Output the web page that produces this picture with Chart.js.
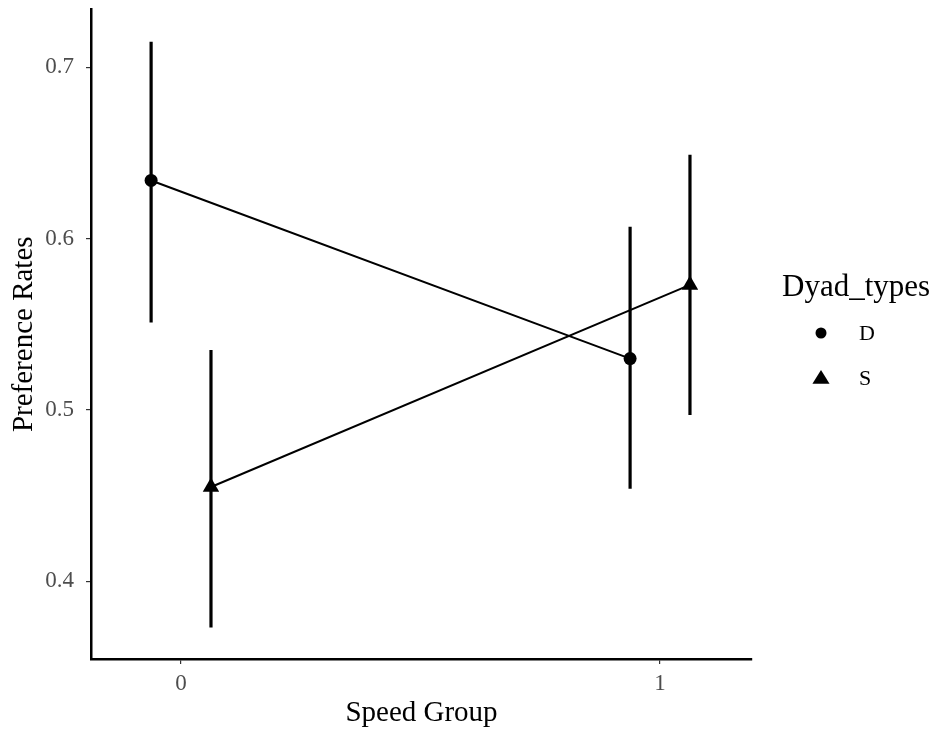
<!DOCTYPE html>
<html>
<head>
<meta charset="utf-8">
<script src="https://cdn.jsdelivr.net/npm/chart.js@4.4.1/dist/chart.umd.min.js"></script>
<style>
  html, body { margin: 0; padding: 0; background: #ffffff; }
  #wrap { width: 939px; height: 729px; }
</style>
</head>
<body>
<div id="wrap"><canvas id="c" width="939" height="729"></canvas></div>
<script>
// ---- data ----
const categories = ["0", "1"];            // Speed Group
const dyadTypes = ["D", "S"];             // legend groups
const meanD = [0.634, 0.530];
const lowerD = [0.551, 0.454];
const upperD = [0.715, 0.607];
const meanS = [0.455, 0.573];
const lowerS = [0.373, 0.497];
const upperS = [0.535, 0.649];
const yTicks = [0.4, 0.5, 0.6, 0.7];

// ---- presentation ----
const dodge = 0.0625;
const serif = "'Liberation Serif', 'Times New Roman', serif";
const groups = [
  { label: dyadTypes[0], mean: meanD, lo: lowerD, hi: upperD, off: -dodge, style: 'circle', r: 6.5 },
  { label: dyadTypes[1], mean: meanS, lo: lowerS, hi: upperS, off: dodge, style: 'triangle', r: 9.5 }
];

const datasets = groups.map(g => ({
  label: g.label,
  data: categories.map((c, i) => ({ x: i + g.off, y: g.mean[i] })),
  borderColor: '#000',
  backgroundColor: '#000',
  borderWidth: 2,
  pointStyle: g.style,
  pointRadius: g.r,
  pointBorderWidth: 0,
  pointHoverRadius: g.r,
  showLine: true,
  tension: 0
}));

const errorBars = {
  id: 'errorBars',
  afterDatasetsDraw(chart) {
    const ctx = chart.ctx, xs = chart.scales.x, ys = chart.scales.y;
    ctx.save();
    ctx.strokeStyle = '#000';
    ctx.lineWidth = 3.2;
    groups.forEach(g => {
      categories.forEach((c, i) => {
        const px = xs.getPixelForValue(i + g.off);
        ctx.beginPath();
        ctx.moveTo(px, ys.getPixelForValue(g.lo[i]));
        ctx.lineTo(px, ys.getPixelForValue(g.hi[i]));
        ctx.stroke();
      });
    });
    ctx.restore();
  }
};

const customLegend = {
  id: 'customLegend',
  afterDraw(chart) {
    const ctx = chart.ctx;
    ctx.save();
    ctx.fillStyle = '#000';
    ctx.textBaseline = 'middle';
    ctx.textAlign = 'left';
    ctx.font = '31px ' + serif;
    ctx.fillText('Dyad_types', 782, 288);
    ctx.font = '22px ' + serif;
    const rows = [333, 378];
    groups.forEach((g, k) => {
      const y = rows[k];
      const x = 821;
      ctx.beginPath();
      if (g.style === 'circle') {
        ctx.arc(x, y, 5.5, 0, Math.PI * 2);
      } else {
        const r = 9.5;
        ctx.moveTo(x, y - r * 0.85);
        ctx.lineTo(x + r * 0.9, y + r * 0.6);
        ctx.lineTo(x - r * 0.9, y + r * 0.6);
        ctx.closePath();
      }
      ctx.fill();
      ctx.fillText(g.label, 859, y + 1);
    });
    ctx.restore();
  }
};

new Chart(document.getElementById('c'), {
  type: 'scatter',
  data: { datasets },
  options: {
    responsive: false,
    devicePixelRatio: 1,
    animation: false,
    events: [],
    layout: { padding: { top: 8, right: 187, left: 0, bottom: 0 } },
    plugins: { legend: { display: false }, tooltip: { enabled: false } },
    scales: {
      x: {
        type: 'linear',
        min: -0.188,
        max: 1.192,
        afterBuildTicks(s) { s.ticks = categories.map((c, i) => ({ value: i })); },
        afterFit(s) { s.height = 70; s.paddingLeft = 0; s.paddingRight = 0; },
        ticks: {
          callback: (v) => categories[v],
          font: { family: serif, size: 23 },
          color: '#4d4d4d',
          padding: 6,
          maxRotation: 0
        },
        grid: { display: true, drawOnChartArea: false, drawTicks: true, tickLength: 5, color: '#333', lineWidth: 1.2 },
        border: { display: true, color: '#000', width: 2.5 },
        title: { display: true, text: 'Speed Group', font: { family: serif, size: 29, lineHeight: 1.1 }, color: '#000', padding: { top: 0, bottom: 0 } }
      },
      y: {
        type: 'linear',
        min: 0.3546,
        max: 0.7338,
        afterBuildTicks(s) { s.ticks = yTicks.map(v => ({ value: v })); },
        afterFit(s) { s.width = 91; s.paddingTop = 0; s.paddingBottom = 0; },
        ticks: {
          callback: (v) => v.toFixed(1),
          font: { family: serif, size: 23 },
          color: '#4d4d4d',
          padding: 12
        },
        grid: { display: true, drawOnChartArea: false, drawTicks: true, tickLength: 5, color: '#333', lineWidth: 1.2 },
        border: { display: true, color: '#000', width: 2.5 },
        title: { display: true, text: 'Preference Rates', font: { family: serif, size: 29 }, color: '#000', padding: { top: 7, bottom: 0 } }
      }
    }
  },
  plugins: [errorBars, customLegend]
});
</script>
</body>
</html>
